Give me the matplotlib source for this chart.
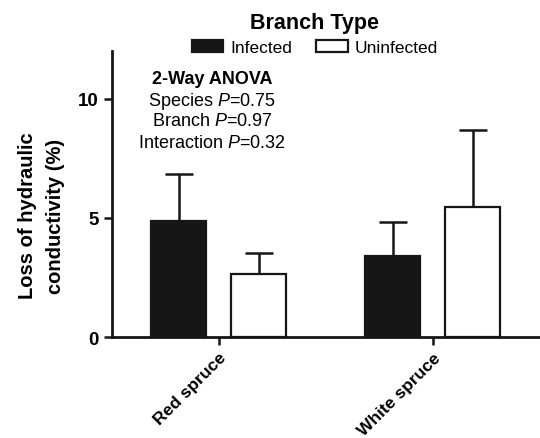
import matplotlib
matplotlib.use("Agg")
import matplotlib.pyplot as plt
import numpy as np

species = ["Red spruce", "White spruce"]
branch_types = ["Infected", "Uninfected"]
infected_mean = [4.87, 3.42]
infected_err = [1.98, 1.41]
uninfected_mean = [2.65, 5.47]
uninfected_err = [0.88, 3.23]
yticks = [0, 5, 10]
anova_title = "2-Way ANOVA"
anova_lines = ["Species $\\it{P}$=0.75", "Branch $\\it{P}$=0.97", "Interaction $\\it{P}$=0.32"]

plt.rcParams['font.family'] = ['Liberation Sans', 'DejaVu Sans']
plt.rcParams['mathtext.fontset'] = 'custom'
plt.rcParams['mathtext.it'] = 'Liberation Sans:italic'
plt.rcParams['mathtext.rm'] = 'Liberation Sans'

fig = plt.figure(figsize=(5.4, 4.39), dpi=100)
ax = fig.add_axes([0.207, 0.230, 0.793, 0.651])

x = np.arange(len(species))
w = 0.257
off = 0.187
lw = 1.6
b1 = ax.bar(x - off, infected_mean, w, color='#161616', edgecolor='#161616', linewidth=lw, label=branch_types[0], zorder=2)
b2 = ax.bar(x + off, uninfected_mean, w, color='white', edgecolor='#161616', linewidth=lw, label=branch_types[1], zorder=2)
ax.errorbar(x - off, infected_mean, yerr=[np.zeros(2), infected_err], fmt='none', ecolor='#161616',
            elinewidth=1.8, capsize=10, capthick=1.8, zorder=1)
ax.errorbar(x + off, uninfected_mean, yerr=[np.zeros(2), uninfected_err], fmt='none', ecolor='#161616',
            elinewidth=1.8, capsize=10, capthick=1.8, zorder=1)

ax.set_xlim(-0.5, 1.5)
ax.set_ylim(0, 12)
ax.set_yticks(yticks)
ax.set_xticks(x)
ax.set_xticklabels(species, rotation=45, ha='right', rotation_mode='anchor', fontsize=12.5, fontweight='bold')
for lab in ax.get_yticklabels():
    lab.set_fontweight('bold')
    lab.set_fontsize(13.5)
ax.tick_params(axis='both', width=1.8, length=6, color='#161616', direction='out')
ax.tick_params(axis='x', pad=3)
for s in ['top', 'right']:
    ax.spines[s].set_visible(False)
for s in ['left', 'bottom']:
    ax.spines[s].set_linewidth(2)
    ax.spines[s].set_color('#161616')

ax.set_ylabel("Loss of hydraulic\nconductivity (%)", fontsize=14.5, fontweight='bold', linespacing=1.6,
              ha='center', va='center')
ax.yaxis.set_label_coords(-0.163, 0.427)

fig.text(212 / 540, 1 - 80 / 439, anova_title, ha='center', va='center', fontsize=13, fontweight='bold')
for i, line in enumerate(anova_lines):
    fig.text(212 / 540, 1 - (101 + 21 * i) / 439, line, ha='center', va='center', fontsize=13)

leg = fig.legend(handles=[b1, b2], loc='upper center', bbox_to_anchor=(315 / 540, 1 - 1 / 439), ncol=2,
                 frameon=False, fontsize=12.5, title="Branch Type",
                 title_fontproperties={'weight': 'bold', 'size': 15.5},
                 handlelength=1.8, handleheight=0.7, handletextpad=0.4, columnspacing=1.4,
                 borderpad=0.2, labelspacing=0.2)
leg._legend_box.sep = 5

fig.savefig("out.png", dpi=100)
